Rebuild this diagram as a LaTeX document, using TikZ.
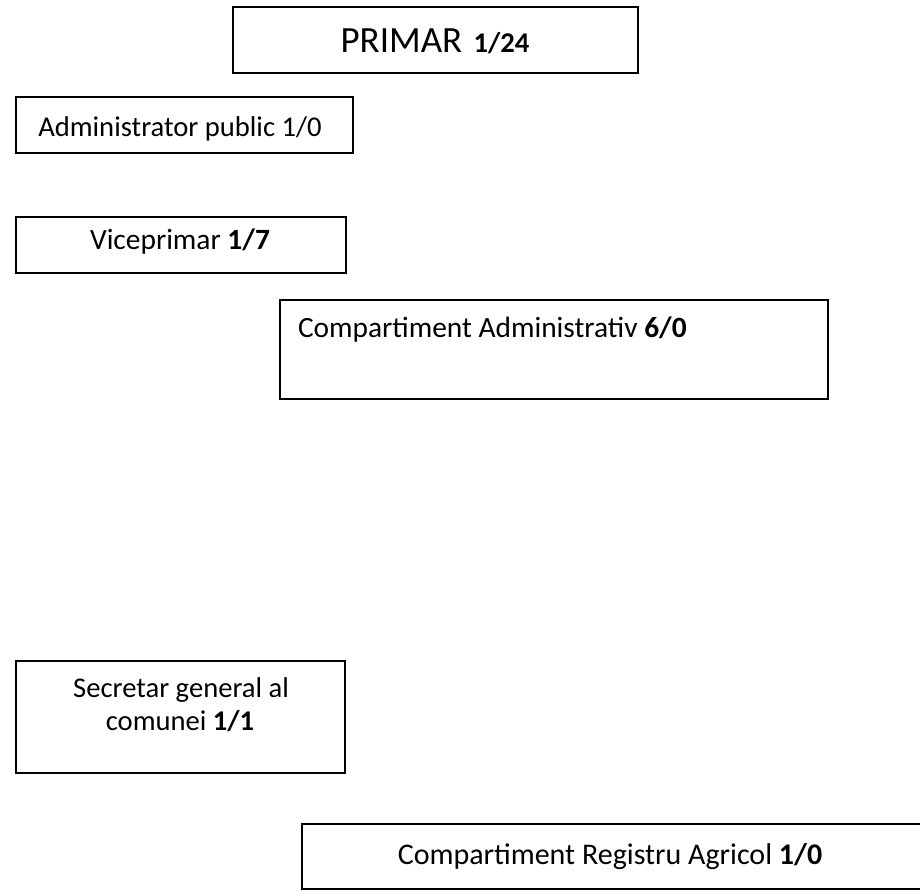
\documentclass[tikz,border=0pt]{standalone}
\usepackage{fontspec}
\setmainfont{Carlito}
\newcommand{\bodyfs}{\fontsize{28.6pt}{33pt}\selectfont}
\newcommand{\bigfs}{\fontsize{37pt}{41pt}\selectfont}
\newcommand{\midfs}{\fontsize{29.4pt}{34pt}\selectfont}
\newcommand{\regfs}{\fontsize{30pt}{35pt}\selectfont}
\begin{document}
\begin{tikzpicture}[x=1pt,y=-1pt,
  boxstyle/.style={draw=black,line width=1.7pt,inner sep=0pt,outer sep=0pt},
  txt/.style={inner sep=0pt,outer sep=0pt,anchor=base,font=\bodyfs}]
\useasboundingbox (0,0) rectangle (920,890);
% PRIMAR
\node[boxstyle,minimum width=405pt,minimum height=66pt] (primar) at (435.5,40) {};
\node[txt] (tprimar) at (435,53) {{\bigfs PRIMAR }\hspace{3pt}\textbf{1/24}};
% Administrator public
\node[boxstyle,minimum width=337pt,minimum height=56pt] (admin) at (184.5,125) {};
\node[txt] (tadmin) at (180,137) {Administrator public 1/0};
% Viceprimar
\node[boxstyle,minimum width=330pt,minimum height=56pt] (vice) at (181,245) {};
\node[txt,font=\midfs] (tvice) at (180,250) {Viceprimar \textbf{1/7}};
% Compartiment Administrativ
\node[boxstyle,minimum width=548pt,minimum height=99pt] (cadm) at (554,349.5) {};
\node[txt,anchor=base west,font=\midfs] (tcadm) at (298,337) {Compartiment Administrativ \textbf{6/0}};
% Secretar general
\node[boxstyle,minimum width=329pt,minimum height=112pt] (secr) at (180.5,717) {};
\node[txt] (tsecr1) at (181,697) {Secretar general al};
\node[txt] (tsecr2) at (180,730) {comunei \textbf{1/1}};
% Compartiment Registru Agricol (open on the right, cut by the page)
\coordinate (regTR) at (925,824);
\coordinate (regTL) at (302,824);
\coordinate (regBL) at (302,889);
\coordinate (regBR) at (925,889);
\draw[line width=1.7pt] (regTR) -- (regTL) -- (regBL) -- (regBR);
\node[txt,font=\regfs] (treg) at (610,864) {Compartiment Registru Agricol \textbf{1/0}};
\end{tikzpicture}
\end{document}
